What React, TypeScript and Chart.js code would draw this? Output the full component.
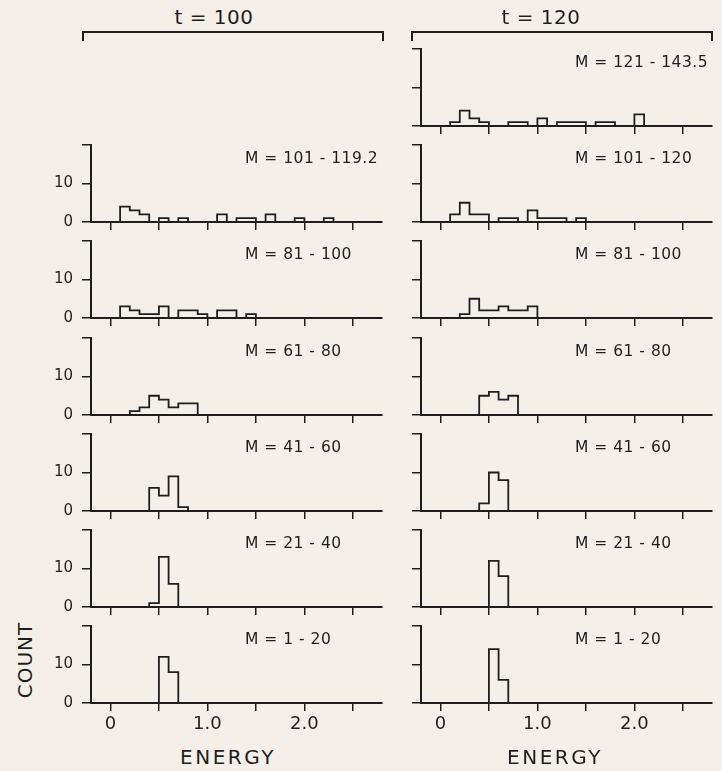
import React, { useEffect, useRef } from "react";
import { Chart, registerables } from "chart.js";

Chart.register(...registerables);

// ---------- data ----------
const BIN_WIDTH = 0.1; // energy width of one histogram bin (bins start at 0)
const X_TICKS = [0, 0.5, 1.0, 1.5, 2.0, 2.5];
const X_TICK_LABELS = ["0", "", "1.0", "", "2.0", ""];
const Y_TICKS = [0, 10, 20];
const Y_TICK_LABELS = ["0", "10", ""];
const COLUMN_TITLES = ["t = 100", "t = 120"];
const X_TITLE = "ENERGY";
const Y_TITLE = "COUNT";

// t = 100 (counts per 0.1 energy bin, starting at 0.0)
const t100_M101_119 = [0, 4, 3, 2, 0, 1, 0, 1, 0, 0, 0, 2, 0, 1, 1, 0, 2, 0, 0, 1, 0, 0, 1];
const t100_M81_100 = [0, 3, 2, 1, 1, 3, 0, 2, 2, 1, 0, 2, 2, 0, 1];
const t100_M61_80 = [0, 0, 1, 2, 5, 4, 2, 3, 3];
const t100_M41_60 = [0, 0, 0, 0, 6, 4, 9, 1];
const t100_M21_40 = [0, 0, 0, 0, 1, 13, 6];
const t100_M1_20 = [0, 0, 0, 0, 0, 12, 8];

// t = 120
const t120_M121_143 = [0, 1, 4, 2, 1, 0, 0, 1, 1, 0, 2, 0, 1, 1, 1, 0, 1, 1, 0, 0, 3];
const t120_M101_120 = [0, 2, 5, 2, 2, 0, 1, 1, 0, 3, 1, 1, 1, 0, 1];
const t120_M81_100 = [0, 0, 1, 5, 2, 2, 3, 2, 2, 3];
const t120_M61_80 = [0, 0, 0, 0, 5, 6, 4, 5];
const t120_M41_60 = [0, 0, 0, 0, 2, 10, 8];
const t120_M21_40 = [0, 0, 0, 0, 0, 12, 8];
const t120_M1_20 = [0, 0, 0, 0, 0, 14, 6];

const PANELS = [
  { col: 1, row: 0, label: "M = 121 - 143.5", counts: t120_M121_143 },
  { col: 0, row: 1, label: "M = 101 - 119.2", counts: t100_M101_119 },
  { col: 1, row: 1, label: "M = 101 - 120", counts: t120_M101_120 },
  { col: 0, row: 2, label: "M = 81 - 100", counts: t100_M81_100 },
  { col: 1, row: 2, label: "M = 81 - 100", counts: t120_M81_100 },
  { col: 0, row: 3, label: "M = 61 - 80", counts: t100_M61_80 },
  { col: 1, row: 3, label: "M = 61 - 80", counts: t120_M61_80 },
  { col: 0, row: 4, label: "M = 41 - 60", counts: t100_M41_60 },
  { col: 1, row: 4, label: "M = 41 - 60", counts: t120_M41_60 },
  { col: 0, row: 5, label: "M = 21 - 40", counts: t100_M21_40 },
  { col: 1, row: 5, label: "M = 21 - 40", counts: t120_M21_40 },
  { col: 0, row: 6, label: "M = 1 - 20", counts: t100_M1_20 },
  { col: 1, row: 6, label: "M = 1 - 20", counts: t120_M1_20 },
];

// ---------- layout / style ----------
const BG = "#f4f0e9";
const INK = "#1e1e1e";
const FONT = "'DejaVu Sans', sans-serif";
const AXIS_X = [91, 421];
const AXIS_RIGHT = [382, 712];
const BASE0 = 126;
const ROW_STEP = 96.2;
const PANEL_H = 77;
const YW = 45;
const PT = 6;
const PR = 4;
const LAST_ROW = 6;

function baselineOf(row: number) {
  return Math.round(BASE0 + ROW_STEP * row);
}

function Panel({ col, row, counts }: { col: number; row: number; counts: number[] }) {
  const ref = useRef<HTMLCanvasElement | null>(null);
  const isBottom = row === LAST_ROW;
  const xh = isBottom ? 40 : 10;
  const base = baselineOf(row);
  const left = AXIS_X[col] - YW;
  const top = base - PANEL_H - PT;
  const width = YW + (AXIS_RIGHT[col] - AXIS_X[col]) + PR;
  const height = PT + PANEL_H + xh;

  useEffect(() => {
    if (!ref.current) return;
    const pts = counts.map((c, i) => ({ x: +(i * BIN_WIDTH).toFixed(2), y: c }));
    pts.push({ x: +(counts.length * BIN_WIDTH).toFixed(2), y: 0 });
    const chart = new Chart(ref.current, {
      type: "line",
      data: {
        datasets: [
          {
            data: pts,
            stepped: "before",
            borderColor: INK,
            borderWidth: 1.8,
            pointRadius: 0,
            fill: false,
            clip: 4,
          } as any,
        ],
      },
      options: {
        responsive: false,
        animation: false,
        events: [],
        layout: { padding: { top: PT, right: PR, left: 0, bottom: 0 } },
        plugins: { legend: { display: false }, tooltip: { enabled: false } },
        scales: {
          x: {
            type: "linear",
            min: -0.2,
            max: 2.8,
            afterBuildTicks: (s: any) => {
              s.ticks = X_TICKS.map((v) => ({ value: v }));
            },
            afterFit: (s: any) => {
              s.height = xh;
              s.paddingLeft = 0;
              s.paddingRight = 0;
            },
            grid: { drawOnChartArea: false, drawTicks: true, tickLength: 8, color: INK, lineWidth: 1.5 },
            border: { display: true, color: INK, width: 2 },
            ticks: {
              autoSkip: false,
              maxRotation: 0,
              padding: 3,
              color: INK,
              font: { family: FONT, size: 18 },
              callback: (v: any) => {
                if (!isBottom) return "";
                const i = X_TICKS.findIndex((t) => Math.abs(t - Number(v)) < 1e-6);
                return i >= 0 ? X_TICK_LABELS[i] : "";
              },
            },
          },
          y: {
            type: "linear",
            min: 0,
            max: 20,
            afterBuildTicks: (s: any) => {
              s.ticks = Y_TICKS.map((v) => ({ value: v }));
            },
            afterFit: (s: any) => {
              s.width = YW;
              s.paddingTop = 0;
              s.paddingBottom = 0;
            },
            grid: { drawOnChartArea: false, drawTicks: true, tickLength: 9, color: INK, lineWidth: 1.5 },
            border: { display: true, color: INK, width: 2 },
            ticks: {
              autoSkip: false,
              padding: 9,
              color: INK,
              font: { family: FONT, size: 15 },
              callback: (v: any) => {
                if (col !== 0) return "";
                const i = Y_TICKS.findIndex((t) => Math.abs(t - Number(v)) < 1e-6);
                return i >= 0 ? Y_TICK_LABELS[i] : "";
              },
            },
          },
        },
      },
    });
    return () => chart.destroy();
  }, []);

  return (
    <canvas
      ref={ref}
      width={width}
      height={height}
      style={{ position: "absolute", left, top, width, height }}
    />
  );
}

const textBase: React.CSSProperties = {
  position: "absolute",
  fontFamily: FONT,
  color: INK,
  lineHeight: 1,
  whiteSpace: "nowrap",
};

export default function App() {
  return (
    <div style={{ position: "fixed", left: 0, top: 0, width: 722, height: 771, background: BG, overflow: "hidden" }}>
      {PANELS.map((p, i) => (
        <Panel key={i} col={p.col} row={p.row} counts={p.counts} />
      ))}
      {PANELS.map((p, i) => (
        <div
          key={"l" + i}
          style={{
            ...textBase,
            left: AXIS_X[p.col] + 154,
            top: baselineOf(p.row) - PANEL_H + 14,
            transform: "translateY(-50%)",
            fontSize: 15.5,
            letterSpacing: 0.5,
          }}
        >
          {p.label}
        </div>
      ))}
      {/* column titles with brackets */}
      <div style={{ ...textBase, left: 214, top: 17, transform: "translate(-50%,-50%)", fontSize: 20, letterSpacing: 0.5 }}>
        {COLUMN_TITLES[0]}
      </div>
      <div style={{ ...textBase, left: 541, top: 17, transform: "translate(-50%,-50%)", fontSize: 20, letterSpacing: 0.5 }}>
        {COLUMN_TITLES[1]}
      </div>
      <div style={{ position: "absolute", left: 82, top: 31, width: 298, height: 8, borderTop: `2px solid ${INK}`, borderLeft: `2px solid ${INK}`, borderRight: `2px solid ${INK}` }} />
      <div style={{ position: "absolute", left: 411, top: 31, width: 298, height: 8, borderTop: `2px solid ${INK}`, borderLeft: `2px solid ${INK}`, borderRight: `2px solid ${INK}` }} />
      {/* axis titles */}
      <div style={{ ...textBase, left: 228, top: 757, transform: "translate(-50%,-50%)", fontSize: 20, letterSpacing: 2.5 }}>
        {X_TITLE}
      </div>
      <div style={{ ...textBase, left: 555, top: 757, transform: "translate(-50%,-50%)", fontSize: 20, letterSpacing: 2.5 }}>
        {X_TITLE}
      </div>
      <div style={{ ...textBase, left: 25, top: 660, transform: "translate(-50%,-50%) rotate(-90deg)", fontSize: 20, letterSpacing: 1 }}>
        {Y_TITLE}
      </div>
    </div>
  );
}
